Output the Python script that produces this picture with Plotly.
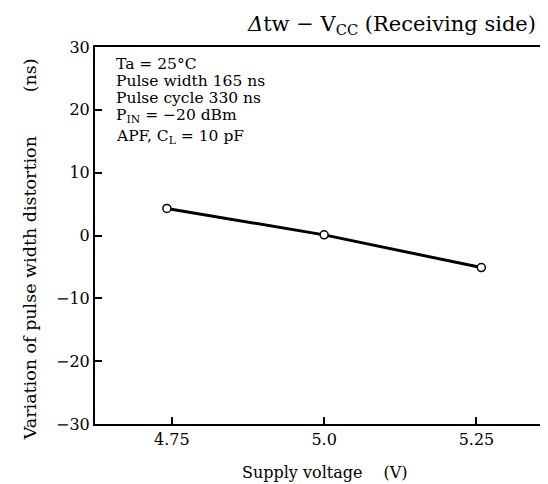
import plotly.graph_objects as go

supply_voltage = [4.742, 5.0, 5.258]
distortion_ns = [4.3, 0.1, -5.1]
x_ticks = [4.75, 5.0, 5.25]
x_tick_labels = ["4.75", "5.0", "5.25"]
y_ticks = [-30, -20, -10, 0, 10, 20, 30]
y_tick_labels = ["\u221230", "\u221220", "\u221210", "0", "10", "20", "30"]
conditions = [
    "Ta = 25\u00b0C",
    "Pulse width 165 ns",
    "Pulse cycle 330 ns",
    "P<sub>IN</sub> = \u221220 dBm",
    "APF, C<sub>L</sub> = 10 pF",
]

FONT = "DejaVu Serif"
W, H = 548, 484
L, R, T, B = 87, 2, 39, 68
pw, ph = W - L - R, H - T - B

def px(xp):
    return (xp - L) / pw

def py(yp):
    return (H - B - yp) / ph

fig = go.Figure()
fig.add_trace(go.Scatter(
    x=supply_voltage, y=distortion_ns, mode="lines+markers",
    line=dict(color="black", width=3),
    marker=dict(symbol="circle", size=8, color="white",
                line=dict(color="black", width=1.5)),
    showlegend=False,
))

ann = []
ys = [56, 73, 90, 108, 129]
for txt, yy in zip(conditions, ys):
    ann.append(dict(text=txt, xref="paper", yref="paper", x=px(106), y=py(yy),
                    xanchor="left", yanchor="middle", showarrow=False,
                    font=dict(family=FONT, size=15.5, color="black")))
ann.append(dict(text="<i>\u0394</i>tw \u2212 V<sub>CC</sub> (Receiving side)",
                xref="paper", yref="paper", x=px(532), y=py(17),
                xanchor="right", yanchor="middle", showarrow=False,
                font=dict(family=FONT, size=21, color="black")))
ann.append(dict(text="Variation of pulse width distortion\u2003\u2003\u2002(ns)",
                xref="paper", yref="paper", x=px(22), y=py(241),
                xanchor="center", yanchor="middle", textangle=-90, showarrow=False,
                font=dict(family=FONT, size=17.5, color="black")))
ann.append(dict(text="Supply voltage\u2003 (V)",
                xref="paper", yref="paper", x=px(318), y=py(464),
                xanchor="center", yanchor="middle", showarrow=False,
                font=dict(family=FONT, size=16, color="black")))

fig.update_layout(
    width=W, height=H,
    margin=dict(l=L, r=R, t=T, b=B, pad=0),
    paper_bgcolor="white", plot_bgcolor="white",
    font=dict(family=FONT, size=16, color="black"),
    annotations=ann,
    xaxis=dict(range=[4.624, 5.374], tickvals=x_ticks, ticktext=x_tick_labels,
               ticks="inside", ticklen=7, tickwidth=1.5, tickcolor="black",
               tickfont=dict(family=FONT, size=16, color="black"),
               showline=True, linecolor="black", linewidth=2, mirror=True,
               showgrid=False, zeroline=False, fixedrange=True),
    yaxis=dict(range=[-30, 30], tickvals=y_ticks, ticktext=y_tick_labels,
               ticks="inside", ticklen=7, tickwidth=1.5, tickcolor="black",
               tickfont=dict(family=FONT, size=16, color="black"),
               showline=True, linecolor="black", linewidth=2, mirror=True,
               showgrid=False, zeroline=False, fixedrange=True),
)

fig.write_html("out.html")
